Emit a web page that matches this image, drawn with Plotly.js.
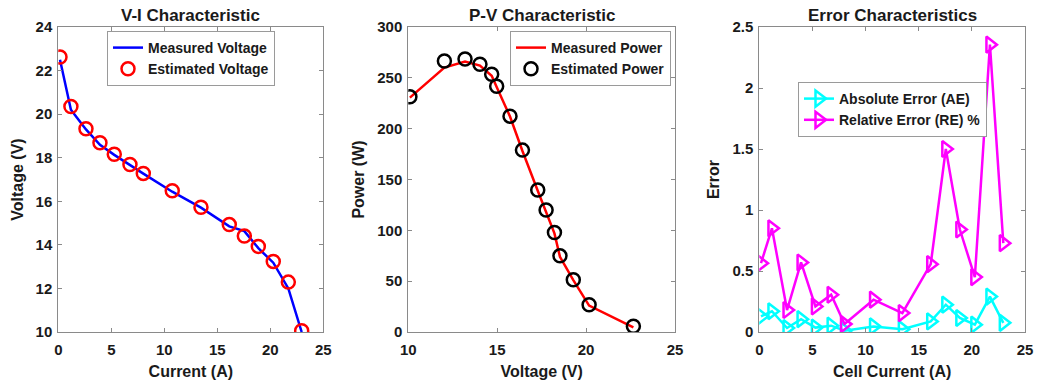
<!DOCTYPE html>
<html>
<head>
<meta charset="utf-8">
<script src="https://cdn.plot.ly/plotly-3.0.1.min.js"></script>
<style>
  html, body { margin: 0; padding: 0; background: #fff; }
  #chart { width: 1050px; height: 386px; }
</style>
</head>
<body>
<div id="chart"></div>
<script>
// Cell current samples (A)
const cellCurrent = [0.16, 1.19, 2.61, 3.93, 5.28, 6.76, 8.02, 10.75, 13.46, 16.13, 17.55, 18.87, 20.28, 21.70, 22.96];

// V-I characteristic (V)
const measuredVoltage  = [22.50, 20.20, 19.30, 18.59, 18.13, 17.65, 17.27, 16.44, 15.71, 14.85, 14.63, 13.85, 13.18, 12.00, 10.00];
const estimatedVoltage = [22.62, 20.35, 19.33, 18.69, 18.16, 17.69, 17.28, 16.48, 15.73, 14.93, 14.41, 13.93, 13.24, 12.29, 10.06];

// P-V characteristic
const pvVoltage        = [22.66, 20.17, 19.28, 18.53, 18.22, 17.75, 17.28, 16.42, 15.72, 14.97, 14.69, 14.03, 13.19, 12.03, 10.09];
const measuredPower    = [4.5, 26.0, 51.0, 74.0, 97.0, 119.0, 139.0, 178.0, 212.0, 241.0, 252.0, 262.0, 266.0, 260.0, 230.5];
const estimatedPower   = [5.6, 26.8, 51.4, 74.9, 97.8, 120.0, 139.7, 178.9, 212.3, 241.7, 253.5, 263.3, 268.6, 266.6, 231.3];

// Error characteristics
const absoluteError = [0.128, 0.170, 0.033, 0.105, 0.036, 0.052, 0.011, 0.046, 0.023, 0.087, 0.224, 0.115, 0.060, 0.290, 0.075];
const relativeError = [0.564, 0.850, 0.180, 0.570, 0.210, 0.305, 0.065, 0.265, 0.155, 0.556, 1.500, 0.840, 0.450, 2.355, 0.728];

const FONT = 'Liberation Sans, Arial, Helvetica, sans-serif';
const TXT = '#1a1a1a';
const FRAME = '#8a8a8a';

function axisStyle(extra) {
  return Object.assign({
    showline: true, mirror: 'ticks', linecolor: FRAME, linewidth: 1,
    ticks: 'inside', ticklen: 4, tickcolor: FRAME, tickwidth: 1,
    showgrid: false, zeroline: false, fixedrange: true,
    tickfont: { family: FONT, size: 15, color: TXT, weight: 'bold' }
  }, extra);
}
function axisTitle(text, standoff) {
  return { text: text, standoff: standoff, font: { family: FONT, size: 16, color: TXT, weight: 'bold' } };
}
function legendStyle(x, y) {
  return {
    x: x, y: y, xanchor: 'left', yanchor: 'top',
    bgcolor: '#ffffff', bordercolor: '#9a9a9a', borderwidth: 1,
    font: { family: FONT, size: 14, color: TXT, weight: 'bold' },
    tracegroupgap: 0, itemwidth: 30
  };
}

const traces = [
  {
    x: cellCurrent, y: measuredVoltage, xaxis: 'x', yaxis: 'y',
    type: 'scatter', mode: 'lines', name: 'Measured Voltage', legend: 'legend',
    line: { color: '#0000ff', width: 2.5 }
  },
  {
    x: cellCurrent, y: estimatedVoltage, xaxis: 'x', yaxis: 'y',
    type: 'scatter', mode: 'markers', name: 'Estimated Voltage', legend: 'legend',
    marker: { symbol: 'circle-open', size: 13, color: '#ff0000', line: { width: 2.5, color: '#ff0000' } }
  },
  {
    x: pvVoltage, y: measuredPower, xaxis: 'x2', yaxis: 'y2',
    type: 'scatter', mode: 'lines', name: 'Measured Power', legend: 'legend2',
    line: { color: '#ff0000', width: 2.5 }
  },
  {
    x: pvVoltage, y: estimatedPower, xaxis: 'x2', yaxis: 'y2',
    type: 'scatter', mode: 'markers', name: 'Estimated Power', legend: 'legend2',
    marker: { symbol: 'circle-open', size: 13, color: '#000000', line: { width: 2.5, color: '#000000' } }
  },
  {
    x: cellCurrent, y: absoluteError, xaxis: 'x3', yaxis: 'y3',
    type: 'scatter', mode: 'lines+markers', name: 'Absolute Error (AE)', legend: 'legend3',
    line: { color: '#00ffff', width: 2.5 },
    marker: { symbol: 'triangle-right-open', size: 14, color: '#00ffff', line: { width: 2.5, color: '#00ffff' } }
  },
  {
    x: cellCurrent, y: relativeError, xaxis: 'x3', yaxis: 'y3',
    type: 'scatter', mode: 'lines+markers', name: 'Relative Error (RE) %', legend: 'legend3',
    line: { color: '#ff00ff', width: 2.5 },
    marker: { symbol: 'triangle-right-open', size: 14, color: '#ff00ff', line: { width: 2.5, color: '#ff00ff' } }
  }
];

const W = 1050, H = 386;
const plotTop = 1 - 27 / H, plotBottom = 1 - 332 / H;

function panelTitle(text, xCenter) {
  return {
    text: text, xref: 'paper', yref: 'paper', x: xCenter / W, y: 1 - 15 / H,
    xanchor: 'center', yanchor: 'middle', showarrow: false,
    font: { family: FONT, size: 17, color: TXT, weight: 'bold' }
  };
}

const layout = {
  width: W, height: H,
  margin: { l: 0, r: 0, t: 0, b: 0 },
  paper_bgcolor: '#ffffff', plot_bgcolor: '#ffffff',
  showlegend: true,
  xaxis:  axisStyle({ domain: [58.3 / W, 323.3 / W], range: [0, 25], dtick: 5, tick0: 0, anchor: 'y',  ticklabelstandoff: 4, title: axisTitle('Current (A)', 8) }),
  yaxis:  axisStyle({ domain: [plotBottom, plotTop], range: [10, 24], dtick: 2, tick0: 10, anchor: 'x',  ticklabelstandoff: 2, title: axisTitle('Voltage (V)', 8) }),
  xaxis2: axisStyle({ domain: [408.3 / W, 675 / W], range: [10, 25], dtick: 5, tick0: 10, anchor: 'y2', ticklabelstandoff: 4, title: axisTitle('Voltage (V)', 8) }),
  yaxis2: axisStyle({ domain: [plotBottom, plotTop], range: [0, 300], dtick: 50, tick0: 0, anchor: 'x2', ticklabelstandoff: 2, title: axisTitle('Power (W)', 8) }),
  xaxis3: axisStyle({ domain: [759.3 / W, 1025 / W], range: [0, 25], dtick: 5, tick0: 0, anchor: 'y3', ticklabelstandoff: 4, title: axisTitle('Cell Current (A)', 8) }),
  yaxis3: axisStyle({ domain: [plotBottom, plotTop], range: [0, 2.5], dtick: 0.5, tick0: 0, anchor: 'x3', ticklabelstandoff: 2, title: axisTitle('Error', 8) }),
  legend:  legendStyle(107 / W, 1 - 31 / H),
  legend2: legendStyle(510 / W, 1 - 31 / H),
  legend3: legendStyle(798 / W, 1 - 82 / H),
  annotations: [
    panelTitle('V-I Characteristic', 190.8),
    panelTitle('P-V Characteristic', 541.6),
    panelTitle('Error Characteristics', 892.1)
  ]
};

Plotly.newPlot('chart', traces, layout, { staticPlot: true, displayModeBar: false });
</script>
</body>
</html>
